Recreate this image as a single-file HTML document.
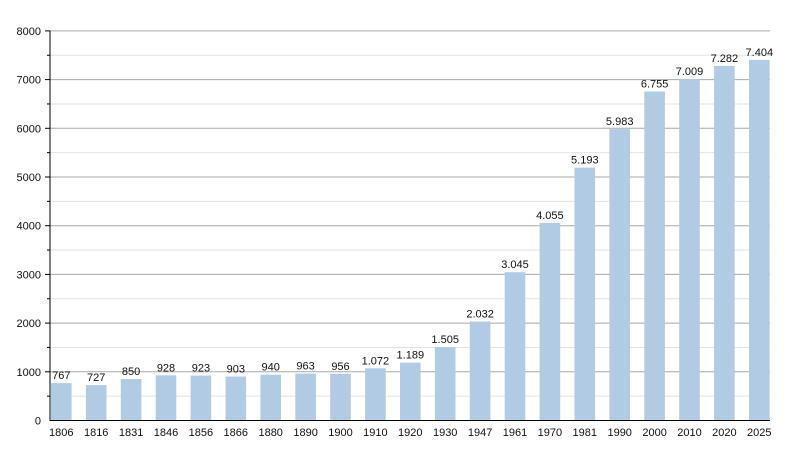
<!DOCTYPE html>
<html><head><meta charset="utf-8"><style>
html,body{margin:0;padding:0;background:#fff;width:800px;height:450px;overflow:hidden}
svg text{font-family:"Liberation Sans",sans-serif;font-size:11px;fill:#111}
</style></head><body>
<svg width="800" height="450" xmlns="http://www.w3.org/2000/svg">
<g stroke="#e2e2e2">
<line x1="50" x2="770" y1="396.15" y2="396.15"/><line x1="50" x2="770" y1="347.45" y2="347.45"/>
<line x1="50" x2="770" y1="298.75" y2="298.75"/><line x1="50" x2="770" y1="250.05" y2="250.05"/>
<line x1="50" x2="770" y1="201.35" y2="201.35"/><line x1="50" x2="770" y1="152.65" y2="152.65"/>
<line x1="50" x2="770" y1="103.95" y2="103.95"/><line x1="50" x2="770" y1="55.25" y2="55.25"/>
</g>
<g stroke="#a8a8a8">
<line x1="50" x2="770" y1="371.8" y2="371.8"/><line x1="50" x2="770" y1="323.1" y2="323.1"/>
<line x1="50" x2="770" y1="274.4" y2="274.4"/><line x1="50" x2="770" y1="225.7" y2="225.7"/>
<line x1="50" x2="770" y1="177" y2="177"/><line x1="50" x2="770" y1="128.3" y2="128.3"/>
<line x1="50" x2="770" y1="79.6" y2="79.6"/><line x1="50" x2="770" y1="30.9" y2="30.9"/>
</g>
<g stroke="#000">
<line x1="45" x2="50" y1="371.8" y2="371.8"/><line x1="45" x2="50" y1="323.1" y2="323.1"/>
<line x1="45" x2="50" y1="274.4" y2="274.4"/><line x1="45" x2="50" y1="225.7" y2="225.7"/>
<line x1="45" x2="50" y1="177" y2="177"/><line x1="45" x2="50" y1="128.3" y2="128.3"/>
<line x1="45" x2="50" y1="79.6" y2="79.6"/><line x1="45" x2="50" y1="30.9" y2="30.9"/>
<line x1="47" x2="50" y1="396.15" y2="396.15"/><line x1="47" x2="50" y1="347.45" y2="347.45"/>
<line x1="47" x2="50" y1="298.75" y2="298.75"/><line x1="47" x2="50" y1="250.05" y2="250.05"/>
<line x1="47" x2="50" y1="201.35" y2="201.35"/><line x1="47" x2="50" y1="152.65" y2="152.65"/>
<line x1="47" x2="50" y1="103.95" y2="103.95"/><line x1="47" x2="50" y1="55.25" y2="55.25"/>
</g>
<g text-anchor="end">
<text x="41" y="424.5">0</text><text x="41" y="375.8">1000</text><text x="41" y="327.1">2000</text>
<text x="41" y="278.4">3000</text><text x="41" y="229.7">4000</text><text x="41" y="181">5000</text>
<text x="41" y="132.3">6000</text><text x="41" y="83.6">7000</text><text x="41" y="34.9">8000</text>
</g>
<g fill="#b1cbe4">
<rect x="51" y="383.15" width="20.6" height="37.35"/>
<rect x="85.9" y="385.1" width="20.6" height="35.4"/>
<rect x="120.8" y="379.1" width="20.6" height="41.4"/>
<rect x="155.7" y="375.3" width="20.6" height="45.2"/>
<rect x="190.6" y="375.55" width="20.6" height="44.95"/>
<rect x="225.5" y="376.5" width="20.6" height="44"/>
<rect x="260.4" y="374.7" width="20.6" height="45.8"/>
<rect x="295.3" y="373.6" width="20.6" height="46.9"/>
<rect x="330.2" y="373.9" width="20.6" height="46.6"/>
<rect x="365.1" y="368.3" width="20.6" height="52.2"/>
<rect x="400" y="362.6" width="20.6" height="57.9"/>
<rect x="434.9" y="347.2" width="20.6" height="73.3"/>
<rect x="469.8" y="321.5" width="20.6" height="99"/>
<rect x="504.7" y="272.2" width="20.6" height="148.3"/>
<rect x="539.6" y="223" width="20.6" height="197.5"/>
<rect x="574.5" y="167.6" width="20.6" height="252.9"/>
<rect x="609.4" y="129.1" width="20.6" height="291.4"/>
<rect x="644.3" y="91.5" width="20.6" height="329"/>
<rect x="679.2" y="79.2" width="20.6" height="341.3"/>
<rect x="714.1" y="65.9" width="20.6" height="354.6"/>
<rect x="749" y="59.9" width="20.6" height="360.6"/>
</g>
<g text-anchor="middle">
<text x="61.3" y="379.2">767</text><text x="96.2" y="381.1">727</text><text x="131.1" y="375.1">850</text>
<text x="166" y="371.3">928</text><text x="200.9" y="371.5">923</text><text x="235.8" y="372.5">903</text>
<text x="270.7" y="370.7">940</text><text x="305.6" y="369.6">963</text><text x="340.5" y="369.9">956</text>
<text x="375.4" y="364.3">1.072</text><text x="410.3" y="358.6">1.189</text><text x="445.2" y="343.2">1.505</text>
<text x="480.1" y="317.5">2.032</text><text x="515" y="268.2">3.045</text><text x="549.9" y="219">4.055</text>
<text x="584.8" y="163.6">5.193</text><text x="619.7" y="125.1">5.983</text><text x="654.6" y="87.5">6.755</text>
<text x="689.5" y="75.2">7.009</text><text x="724.4" y="61.9">7.282</text><text x="759.3" y="55.9">7.404</text>
<text x="61.3" y="436">1806</text><text x="96.2" y="436">1816</text><text x="131.1" y="436">1831</text>
<text x="166" y="436">1846</text><text x="200.9" y="436">1856</text><text x="235.8" y="436">1866</text>
<text x="270.7" y="436">1880</text><text x="305.6" y="436">1890</text><text x="340.5" y="436">1900</text>
<text x="375.4" y="436">1910</text><text x="410.3" y="436">1920</text><text x="445.2" y="436">1930</text>
<text x="480.1" y="436">1947</text><text x="515" y="436">1961</text><text x="549.9" y="436">1970</text>
<text x="584.8" y="436">1981</text><text x="619.7" y="436">1990</text><text x="654.6" y="436">2000</text>
<text x="689.5" y="436">2010</text><text x="724.4" y="436">2020</text><text x="759.3" y="436">2025</text>
</g>
<line x1="50" x2="50" y1="30.5" y2="421" stroke="#000"/>
<line x1="49.5" x2="770" y1="420.5" y2="420.5" stroke="#000"/>
</svg>
</body></html>
